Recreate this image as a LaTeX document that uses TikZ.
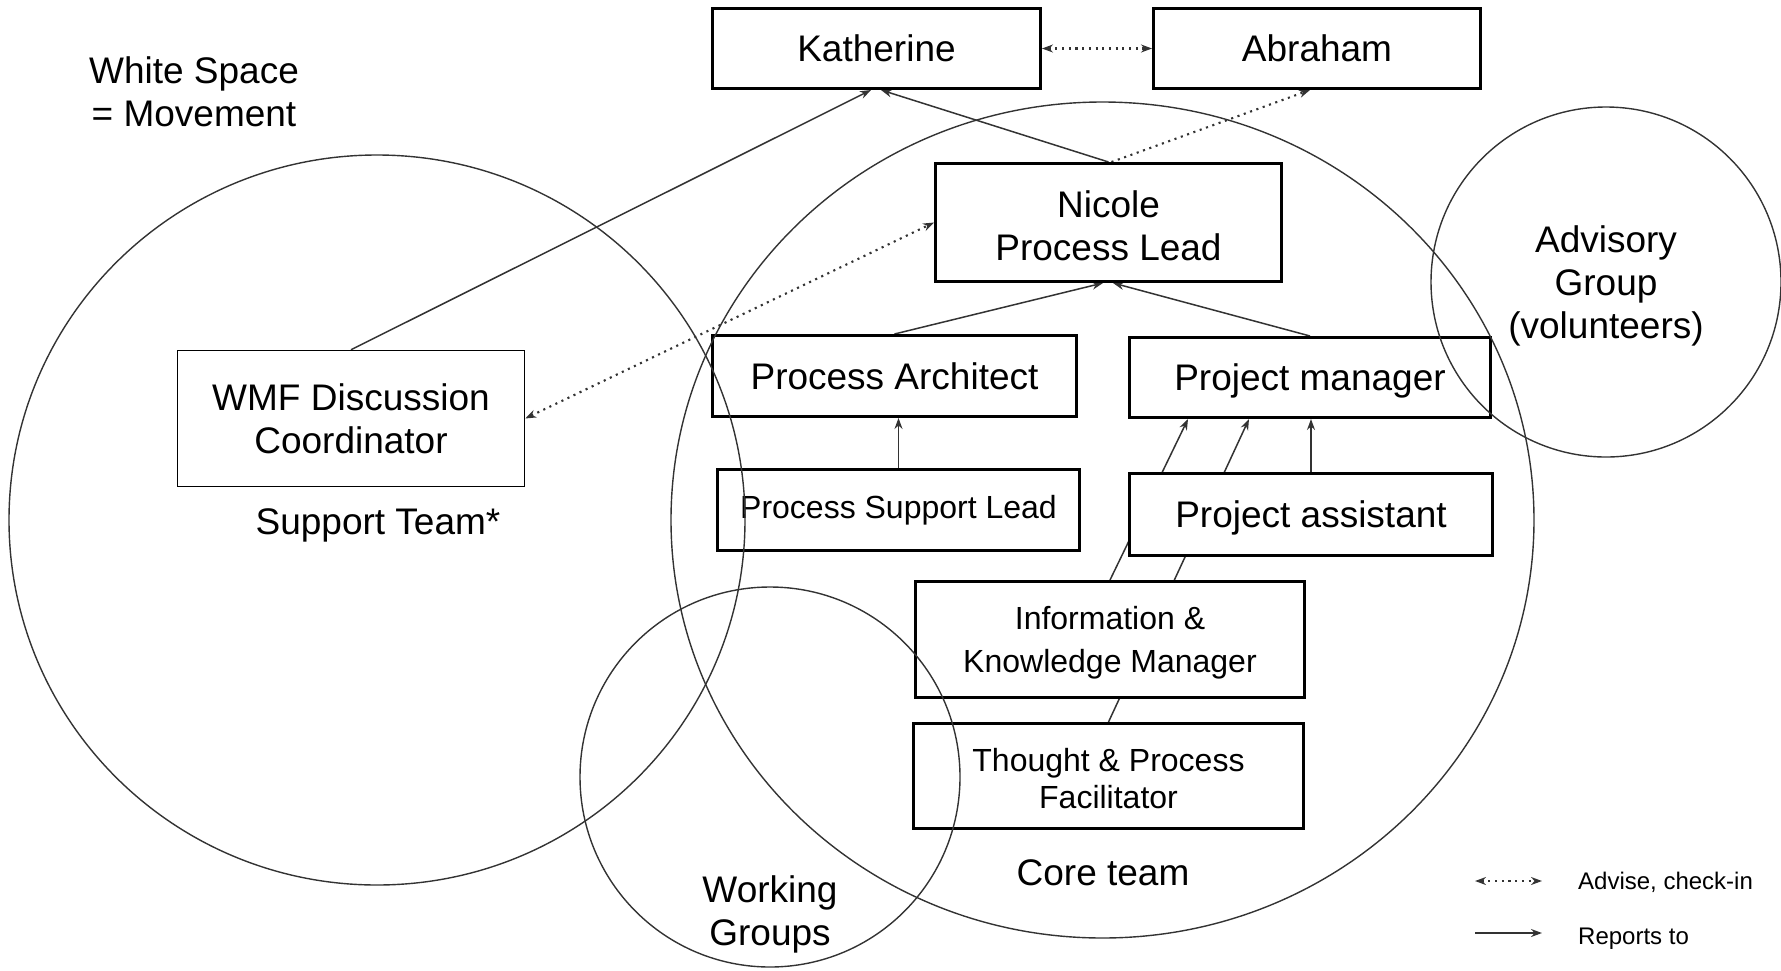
\documentclass[tikz,border=0pt]{standalone}
\usepackage{fontspec}
\setmainfont{Liberation Sans}
\usetikzlibrary{arrows.meta,calc}
\definecolor{linec}{HTML}{333333}
\definecolor{ringc}{HTML}{333333}
\pgfdeclarelayer{bg}
\pgfdeclarelayer{fg}
\pgfsetlayers{bg,main,fg}
\newcommand\mylift[1]{\rule{0pt}{#1}}
\begin{document}
\begin{tikzpicture}[x=1pt,y=-1pt,
  box/.style={draw=black, line width=3pt, fill=white, inner sep=0pt, align=center,
    font=\fontsize{37}{43}\selectfont},
  sbox/.style={box, font=\fontsize{32}{40}\selectfont},
  thinbox/.style={box, line width=1.5pt},
  rep/.style={draw=linec, line width=1.5pt, -{Stealth[length=11pt,width=8pt]}},
  adv/.style={draw=linec, line width=2.1pt, dash pattern=on 2.1pt off 4.6pt},
  advtip/.style={-{Stealth[length=11pt,width=8pt]}},
  advboth/.style={{Stealth[length=11pt,width=8pt]}-{Stealth[length=11pt,width=8pt]}},
  ring/.style={draw=ringc, line width=1.4pt},
  lbl/.style={align=center, font=\fontsize{37}{43}\selectfont, inner sep=0pt},
  leg/.style={font=\fontsize{24}{28}\selectfont, inner sep=0pt}
]
\useasboundingbox (0,0) rectangle (1781,970);

% nodes (boxes)
\node[box, minimum width=328pt, minimum height=80pt] (kath) at (876.5,48.5) {Katherine};
\node[box, minimum width=327pt, minimum height=80pt] (abr) at (1317,48.5) {Abraham};
\node[box, minimum width=346pt, minimum height=118pt] (nic) at (1108.5,222.5) {\mylift{33pt}Nicole\\Process Lead};
\node[box, minimum width=364pt, minimum height=81pt] (parch) at (894.5,376) {Process Architect};
\node[box, minimum width=361pt, minimum height=80pt, text depth=0pt] (pm) at (1310,377.5) {Project manager};
\node[sbox, minimum width=362pt, minimum height=81pt] (psl) at (898.5,510) {Process Support Lead};
\node[box, minimum width=363pt, minimum height=82pt, text depth=0pt] (pas) at (1311,514.5) {Project assistant};
\node[sbox, minimum width=389pt, minimum height=116pt, font=\fontsize{32}{43}\selectfont] (ikm) at (1110,639.5) {\mylift{29.5pt}Information \&\\Knowledge Manager};
\node[sbox, minimum width=390pt, minimum height=105pt, font=\fontsize{32}{37.5}\selectfont] (tpf) at (1108.5,776) {\mylift{28pt}Thought \& Process\\Facilitator};
\node[thinbox, minimum width=347pt, minimum height=136pt] (wmf) at (351,418.5) {WMF Discussion\\Coordinator};

% connectors (behind boxes)
\begin{pgfonlayer}{bg}
\draw[rep] (wmf.north) -- ($(kath.south)+(-5.5,0)$);
\draw[rep] (nic.north) -- ($(kath.south)+(4.5,0)$);
\draw[adv,advtip] ($(nic.north)+(3,0)$) -- ($(abr.south)+(-7,0)$);
\draw[adv,advboth] (wmf.east) -- (nic.west);
\draw[adv,advboth] (kath.east) -- (abr.west);
\draw[rep] (parch.north) -- ($(nic.south)+(-5.5,0)$);
\draw[rep] (pm.north) -- ($(nic.south)+(4.5,0)$);
\draw[rep] (psl.north) -- (psl.north |- parch.south);
\draw[rep] (pas.north) -- (pas.north |- pm.south);
\draw[rep] (ikm.north) -- ($(pm.south)+(-122,0)$);
\draw[rep] (tpf.north) -- ($(pm.south)+(-61,0)$);
\end{pgfonlayer}

% groups
\begin{pgfonlayer}{fg}
\draw[ring] (377,520) ellipse [x radius=368pt, y radius=365pt];
\draw[ring] (1102.5,520) ellipse [x radius=431.5pt, y radius=418pt];
\draw[ring] (770,777) circle [radius=190pt];
\draw[ring] (1606,282) circle [radius=175pt];
\end{pgfonlayer}

% free labels
\node[lbl] (ws) at (194,92) {White Space\\= Movement};
\node[lbl, anchor=base] (st) at (378,534) {Support Team*};
\node[lbl, anchor=base] (ct) at (1103,885) {Core team};
\node[lbl] (wg) at (770,914) {Working\\Groups};
\node[lbl] (ag) at (1606,286) {Advisory\\Group\\(volunteers)};

% legend
\coordinate (l1a) at (1475,881);
\coordinate (l1b) at (1542,881);
\coordinate (l2a) at (1475,933);
\coordinate (l2b) at (1542,933);
\draw[adv,advboth] (l1a) -- (l1b);
\draw[rep] (l2a) -- (l2b);
\node[leg, anchor=base west] (lt1) at (1578,889) {Advise, check-in};
\node[leg, anchor=base west] (lt2) at (1578,944) {Reports to};
\end{tikzpicture}
\end{document}
